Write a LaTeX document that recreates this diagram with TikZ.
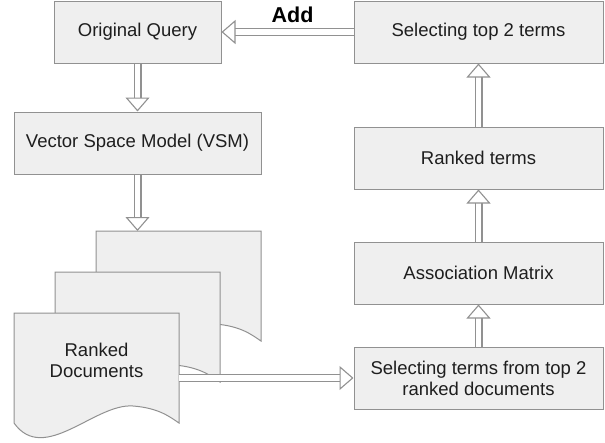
\documentclass[tikz,border=0pt]{standalone}
\usepackage{fontspec}
\setmainfont{Liberation Sans}
\usetikzlibrary{arrows.meta, positioning, calc}
\definecolor{qfill}{RGB}{239,239,239}
\definecolor{qborder}{RGB}{145,145,145}
\definecolor{qtext}{RGB}{30,30,30}

% one sheet of the document stack, drawn round an empty node
\newcommand{\docpage}[1]{%
  \draw[page] (#1.north west) -- (#1.north east) -- (#1.south east)
    .. controls ($(#1.south east)+(-9,-6)$) and ($(#1.south east)+(-20,-15)$) .. ($(#1.south west)+(119,-17)$)
    .. controls ($(#1.south west)+(81,-20)$) and ($(#1.south west)+(30,42)$) .. (#1.south west) -- cycle;}

\begin{document}
\begin{tikzpicture}[x=1pt, y=-1pt,
    box/.style={rectangle, draw=qborder, line width=1pt, fill=qfill, minimum height=62pt,
        text=qtext, align=center, font=\fontsize{18.5}{21}\selectfont},
    sheet/.style={rectangle, minimum width=165pt, minimum height=110pt,
        inner sep=0pt, outer sep=0pt, anchor=north west},
    page/.style={draw=qborder, line width=1pt, fill=qfill},
    hollow/.style={draw=qborder, line width=1.1pt, double=white, double distance=5.8pt,
        -{Triangle[open, fill=white, width=24pt, length=14pt]}},
    addlabel/.style={above=5pt, xshift=5pt, font=\fontsize{21.5}{25}\selectfont\bfseries, text=black}
]
\useasboundingbox (0,0) rectangle (605,442);

% left column
\node[box, minimum width=167pt] (query) at (137.5,32) {Original Query};
\node[box, minimum width=247pt, below=48pt of query] (vsm) {Vector Space Model (VSM)};

% stack of ranked documents
\node[sheet] (doc3) at (96,231) {};
\node[sheet] (doc2) at (55,272) {};
\node[sheet] (doc1) at (14,313) {};
\docpage{doc3}
\docpage{doc2}
\docpage{doc1}
\node[text=qtext, align=center, font=\fontsize{18.5}{21}\selectfont] (doclabel)
    at ($(doc1.center)+(0,-8)$) {Ranked\\Documents};

% right column
\node[box, minimum width=249pt] (top2) at (478.5,32) {Selecting top 2 terms};
\node[box, minimum width=249pt, below=63pt of top2] (ranked) {Ranked terms};
\node[box, minimum width=249pt, below=52pt of ranked] (assoc) {Association Matrix};
\node[box, minimum width=249pt, below=42pt of assoc] (seldocs) {Selecting terms from top 2\\ranked documents};

\draw[hollow] (query) -- (vsm);
\draw[hollow] (vsm.south) -- (vsm.south |- doc3.north);
\draw[hollow] (doc1.east |- seldocs.west) -- (seldocs.west);
\draw[hollow] (seldocs) -- (assoc);
\draw[hollow] (assoc) -- (ranked);
\draw[hollow] (ranked) -- (top2);
\draw[hollow] (top2) -- node[addlabel] {Add} (query);
\end{tikzpicture}
\end{document}
